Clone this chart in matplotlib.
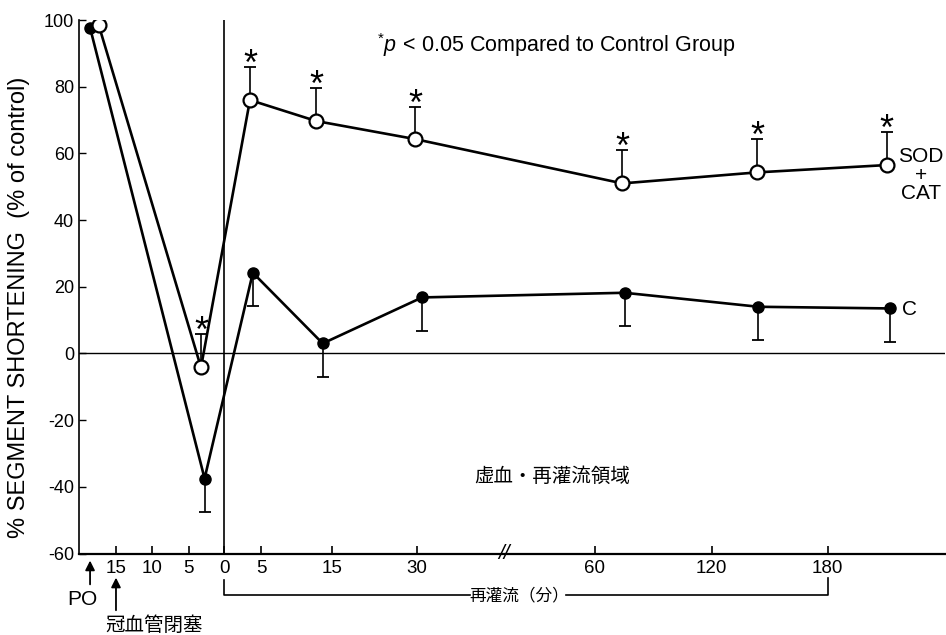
import matplotlib
matplotlib.use("Agg")
import matplotlib.pyplot as plt

plt.rcParams['font.family'] = ['Liberation Sans', 'Noto Sans CJK JP']
plt.rcParams['mathtext.fontset'] = 'custom'
plt.rcParams['mathtext.rm'] = 'Liberation Sans'
plt.rcParams['mathtext.it'] = 'Liberation Sans:italic'

# x is a plot position (broken time axis)
# control group C, filled circles, error bars downward
c_x = [-18.6, -2.7, 4.0, 13.7, 27.5, 55.6, 74.2, 92.4]
c_y = [97.7, -37.5, 24.2, 3.0, 16.8, 18.2, 14.0, 13.5]
c_err = [0, 10, 10, 10, 10, 10, 10, 10]

# SOD + CAT group, open circles, error bars upward
sod_x = [-17.4, -3.2, 3.6, 12.8, 26.5, 55.3, 74.0, 92.0]
sod_y = [98.5, -4.2, 76.0, 69.7, 64.3, 51.0, 54.3, 56.5]
sod_err = [0, 10, 10, 10, 9.7, 10, 10, 10]
sod_sig = [False, True, True, True, True, True, True, True]

tick_pos = [-15, -10, -4.9, 0, 5.2, 15, 26.8, 51.5, 67.7, 83.8]
tick_labels = ['15', '10', '5', '0', '5', '15', '30', '60', '120', '180']
yticks = [-60, -40, -20, 0, 20, 40, 60, 80, 100]

fig = plt.figure(figsize=(9.46, 6.35), dpi=100)
ax = fig.add_axes([0.084, 0.1283, 0.915, 0.8402])
ax.set_xlim(-20.07, 100.1)
ax.set_ylim(-60, 100)

ax.axhline(0, color='k', lw=1.0, zorder=1)
ax.axvline(0, color='k', lw=1.2, zorder=1)

# error bars
cx = c_x[1:]
cy = c_y[1:]
ce = c_err[1:]
ax.vlines(cx, [y - e for y, e in zip(cy, ce)], cy, color='k', lw=1.2, zorder=2)
ax.plot(cx, [y - e for y, e in zip(cy, ce)], ls='none', marker='_', ms=8.5, mew=1.3, color='k', zorder=2)
sx = sod_x[1:]
sy = sod_y[1:]
se = sod_err[1:]
ax.vlines(sx, sy, [y + e for y, e in zip(sy, se)], color='k', lw=1.2, zorder=2)
ax.plot(sx, [y + e for y, e in zip(sy, se)], ls='none', marker='_', ms=8.5, mew=1.3, color='k', zorder=2)

# lines and markers
ax.plot(c_x, c_y, color='k', lw=1.9, marker='o', ms=8, mfc='k', mec='k', zorder=4)
ax.plot(sod_x, sod_y, color='k', lw=1.9, marker='o', ms=10, mfc='white', mec='k', mew=1.6, zorder=4)

# significance stars
for x, y, e, s in zip(sod_x, sod_y, sod_err, sod_sig):
    if s:
        ax.annotate('*', (x, y + e), xytext=(0, -6), textcoords='offset points',
                    ha='center', va='baseline', fontsize=26)

ax.set_xticks(tick_pos)
ax.set_xticklabels(tick_labels, fontsize=13.5)
ax.set_yticks(yticks)
ax.set_yticklabels([str(v) for v in yticks], fontsize=13)
ax.tick_params(axis='x', direction='in', length=6, width=1.2, pad=5)
ax.tick_params(axis='y', direction='in', length=5, width=1.0, pad=4)
ax.spines['top'].set_visible(False)
ax.spines['right'].set_visible(False)
ax.spines['left'].set_linewidth(1.2)
ax.spines['bottom'].set_linewidth(1.6)

ax.set_ylabel('% SEGMENT SHORTENING  (% of control)', fontsize=17)
ax.yaxis.set_label_coords(-0.057, 0.462)

# axis break
ax.text(38.8, -60, '//', ha='center', va='center', fontsize=15, style='italic', zorder=5)

ax.text(21.2, 92.5, r'$^{*}\it{p}$$\,<\,$0.05 Compared to Control Group', fontsize=15.5,
        ha='left', va='center')
ax.text(96.7, 53.5, 'SOD\n+\nCAT', fontsize=15, ha='center', va='center', linespacing=0.95)
ax.text(94.1, 13.3, 'C', fontsize=15, ha='left', va='center')
ax.text(45.6, -37.0, '虚血・再灌流領域', fontsize=14, ha='center', va='center')

# reperfusion bracket under the axis
tr = ax.get_xaxis_transform()
ax.plot([0, 0, 34.2], [-0.0497, -0.0778, -0.0778], color='k', lw=1.2, transform=tr, clip_on=False)
ax.plot([47.5, 83.8, 83.8], [-0.0778, -0.0778, -0.046], color='k', lw=1.2, transform=tr, clip_on=False)
ax.text(41.0, -0.0778, '再灌流（分）', fontsize=12, ha='center', va='center', transform=tr)

# pre-occlusion and occlusion arrows
ax.annotate('', xy=(-18.6, -0.008), xytext=(-18.6, -0.063), xycoords=tr, textcoords=tr,
            arrowprops=dict(arrowstyle='-|>', color='k', lw=1.3, mutation_scale=14))
ax.annotate('', xy=(-15, -0.040), xytext=(-15, -0.1115), xycoords=tr, textcoords=tr,
            arrowprops=dict(arrowstyle='-|>', color='k', lw=1.3, mutation_scale=14))
ax.text(-19.6, -0.0853, 'PO', fontsize=15, ha='center', va='center', transform=tr)
ax.text(-9.65, -0.136, '冠血管閉塞', fontsize=14, ha='center', va='center', transform=tr)

fig.savefig('out.png', dpi=100)
